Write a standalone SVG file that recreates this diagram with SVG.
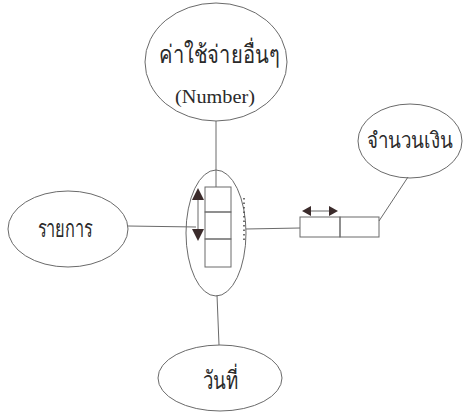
<svg xmlns="http://www.w3.org/2000/svg" width="468" height="418" viewBox="0 0 468 418">
  <style>
    .shape { fill: none; stroke: #6a6a6a; stroke-width: 1; }
    .link { fill: none; stroke: #6a6a6a; stroke-width: 1; }
    .label { font-family: "Liberation Serif", "DejaVu Serif", serif; fill: #2a2a2a; text-anchor: middle; }
    .thai { font-size: 25px; }
    .eng { font-size: 19px; }
    .head { fill: #3b2b2b; }
  </style>
  <rect width="468" height="418" fill="#ffffff"/>

  <g id="connectors">
    <line class="link" x1="216" y1="121" x2="216" y2="187"/>
    <line class="link" x1="128" y1="226" x2="196" y2="227"/>
    <line class="link" x1="246" y1="229" x2="300" y2="228"/>
    <line class="link" x1="379" y1="221" x2="408" y2="177"/>
    <line class="link" x1="217" y1="295" x2="219" y2="345"/>
  </g>

  <g id="expense">
    <ellipse class="shape" cx="216" cy="62" rx="71" ry="59"/>
    <text class="label thai" x="219" y="63" textLength="120" lengthAdjust="spacingAndGlyphs">ค่าใช้จ่ายอื่นๆ</text>
    <text class="label eng" x="215" y="103" textLength="80" lengthAdjust="spacingAndGlyphs">(Number)</text>
  </g>

  <g id="item">
    <ellipse class="shape" cx="68" cy="229" rx="60" ry="38"/>
    <text class="label thai" x="65" y="237" textLength="55" lengthAdjust="spacingAndGlyphs">รายการ</text>
  </g>

  <g id="amount">
    <ellipse class="shape" cx="410" cy="141" rx="52" ry="37"/>
    <text class="label" x="410" y="148" font-size="22" textLength="86" lengthAdjust="spacingAndGlyphs">จำนวนเงิน</text>
  </g>

  <g id="date">
    <ellipse class="shape" cx="220" cy="378" rx="62" ry="33"/>
    <text class="label thai" x="220" y="389" textLength="35" lengthAdjust="spacingAndGlyphs">วันที่</text>
  </g>

  <g id="record">
    <ellipse class="shape" cx="216" cy="233" rx="30" ry="63"/>
    <rect class="shape" x="205" y="187" width="26" height="25"/>
    <rect class="shape" x="205" y="212" width="26" height="27"/>
    <rect class="shape" x="205" y="239" width="26" height="28"/>
    <!-- vertical repeat arrow -->
    <line class="link" x1="198" y1="198" x2="198" y2="230"/>
    <polygon class="head" points="198,188 192,200 204,200"/>
    <polygon class="head" points="198,241 192,229 204,229"/>
    <!-- dotted edge on the right -->
    <line x1="244" y1="198" x2="244" y2="243" stroke="#444" stroke-width="1.5" stroke-dasharray="1.5 3"/>
  </g>

  <g id="amount-field">
    <rect class="shape" x="300" y="217" width="40" height="20"/>
    <rect class="shape" x="340" y="217" width="39" height="20"/>
    <line class="link" x1="308" y1="211" x2="332" y2="211"/>
    <polygon class="head" points="302,211 311,206 311,216"/>
    <polygon class="head" points="338,211 329,206 329,216"/>
  </g>
</svg>
